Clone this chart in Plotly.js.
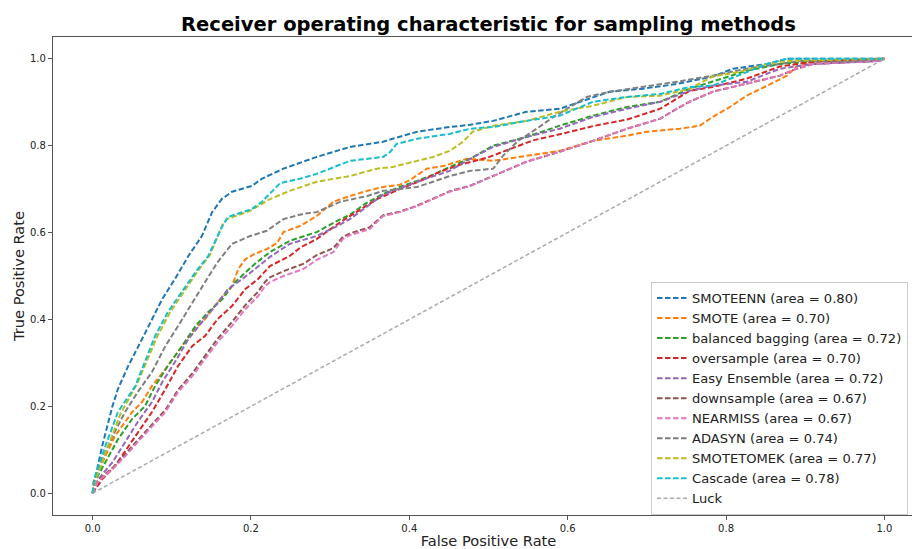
<!DOCTYPE html>
<html>
<head>
<meta charset="utf-8">
<script src="https://cdn.plot.ly/plotly-3.0.1.min.js"></script>
<style>
html,body{margin:0;padding:0;overflow:hidden;background:#fff;width:912px;height:549px;}
#chart{width:930px;height:549px;}
</style>
</head>
<body>
<div id="chart"></div>
<script>
// ---- Data ----
const names = ["SMOTEENN (area = 0.80)","SMOTE (area = 0.70)","balanced bagging (area = 0.72)","oversample (area = 0.70)","Easy Ensemble (area = 0.72)","downsample (area = 0.67)","NEARMISS (area = 0.67)","ADASYN (area = 0.74)","SMOTETOMEK (area = 0.77)","Cascade (area = 0.78)"];
const colors = ["#1f77b4","#ff7f0e","#2ca02c","#d62728","#9467bd","#8c564b","#e377c2","#7f7f7f","#bcbd22","#17becf"];

const smoteenn_fpr = [0,0.003,0.012,0.025,0.032,0.045,0.0625,0.075,0.088,0.104,0.121,0.138,0.151,0.163,0.176,0.201,0.214,0.241,0.283,0.325,0.367,0.379,0.410,0.451,0.477,0.506,0.548,0.590,0.616,0.653,0.695,0.738,0.783,0.809,0.852,0.877,0.994,1];
const smoteenn_tpr = [0,0.032,0.108,0.200,0.240,0.293,0.355,0.401,0.447,0.493,0.546,0.592,0.647,0.677,0.694,0.707,0.724,0.747,0.774,0.797,0.809,0.816,0.832,0.843,0.848,0.857,0.878,0.885,0.901,0.924,0.931,0.942,0.959,0.977,0.988,1.0,1.0,1];

const smote_fpr = [0,0.003,0.016,0.028,0.037,0.050,0.0625,0.075,0.092,0.108,0.126,0.142,0.158,0.176,0.184,0.193,0.205,0.220,0.233,0.241,0.262,0.283,0.304,0.325,0.347,0.367,0.388,0.401,0.422,0.443,0.473,0.506,0.548,0.590,0.632,0.675,0.700,0.742,0.767,0.783,0.805,0.826,0.852,0.877,0.889,0.910,0.994,1];
const smote_tpr = [0,0.032,0.085,0.131,0.154,0.187,0.210,0.247,0.286,0.325,0.371,0.401,0.440,0.477,0.516,0.539,0.551,0.562,0.576,0.601,0.615,0.638,0.671,0.684,0.696,0.705,0.710,0.721,0.747,0.753,0.770,0.765,0.776,0.788,0.811,0.823,0.832,0.839,0.846,0.866,0.889,0.915,0.938,0.961,0.982,0.993,1,1];

const bagging_fpr = [0,0.003,0.016,0.032,0.050,0.066,0.079,0.095,0.113,0.130,0.146,0.164,0.180,0.193,0.205,0.224,0.249,0.283,0.309,0.325,0.344,0.367,0.388,0.410,0.430,0.451,0.477,0.506,0.548,0.590,0.632,0.675,0.717,0.754,0.783,0.826,0.868,0.919,1];
const bagging_tpr = [0,0.028,0.071,0.124,0.171,0.200,0.247,0.293,0.339,0.385,0.417,0.447,0.486,0.509,0.528,0.555,0.581,0.601,0.627,0.641,0.666,0.689,0.705,0.719,0.733,0.751,0.770,0.800,0.820,0.846,0.869,0.889,0.901,0.931,0.947,0.972,0.988,0.995,1];

const oversample_fpr = [0,0.012,0.028,0.045,0.0625,0.075,0.092,0.108,0.126,0.142,0.158,0.176,0.193,0.209,0.224,0.249,0.262,0.283,0.313,0.336,0.359,0.388,0.413,0.439,0.464,0.498,0.530,0.556,0.590,0.632,0.675,0.717,0.754,0.783,0.826,0.868,0.910,1];
const oversample_tpr = [0,0.032,0.062,0.108,0.154,0.187,0.240,0.293,0.339,0.362,0.401,0.431,0.470,0.493,0.523,0.546,0.565,0.585,0.624,0.650,0.677,0.700,0.718,0.740,0.756,0.772,0.795,0.812,0.826,0.845,0.860,0.885,0.926,0.935,0.954,0.982,0.993,1];

const easy_fpr = [0,0.007,0.025,0.041,0.057,0.075,0.088,0.104,0.121,0.138,0.155,0.171,0.189,0.205,0.224,0.249,0.283,0.309,0.325,0.367,0.410,0.451,0.477,0.506,0.548,0.590,0.632,0.675,0.717,0.754,0.783,0.826,0.868,0.910,0.994,1];
const easy_tpr = [0,0.032,0.071,0.118,0.164,0.210,0.256,0.302,0.355,0.394,0.431,0.470,0.493,0.516,0.544,0.574,0.592,0.615,0.631,0.687,0.717,0.742,0.770,0.797,0.820,0.839,0.866,0.885,0.901,0.926,0.938,0.947,0.977,0.988,0.995,1];

const down_fpr = [0,0.007,0.025,0.041,0.057,0.075,0.092,0.108,0.126,0.142,0.158,0.176,0.193,0.209,0.218,0.224,0.241,0.266,0.283,0.304,0.316,0.325,0.350,0.367,0.388,0.410,0.430,0.451,0.477,0.506,0.548,0.590,0.632,0.675,0.717,0.738,0.754,0.783,0.826,0.868,0.889,0.910,0.994,1];
const down_tpr = [0,0.030,0.058,0.090,0.122,0.158,0.192,0.238,0.276,0.316,0.356,0.394,0.433,0.464,0.487,0.497,0.511,0.528,0.548,0.564,0.590,0.598,0.612,0.640,0.648,0.662,0.678,0.695,0.708,0.730,0.763,0.786,0.811,0.839,0.862,0.885,0.901,0.924,0.942,0.961,0.977,0.988,0.995,1];

const nearmiss_fpr = [0,0.007,0.025,0.041,0.057,0.075,0.092,0.108,0.126,0.142,0.158,0.176,0.193,0.209,0.218,0.224,0.241,0.266,0.283,0.304,0.316,0.325,0.350,0.367,0.388,0.410,0.430,0.451,0.477,0.506,0.548,0.590,0.632,0.675,0.717,0.738,0.754,0.783,0.826,0.868,0.889,0.910,0.994,1];
const nearmiss_tpr = [0,0.028,0.055,0.085,0.118,0.154,0.187,0.233,0.270,0.309,0.348,0.385,0.424,0.454,0.477,0.486,0.500,0.516,0.537,0.555,0.585,0.594,0.608,0.638,0.647,0.661,0.677,0.694,0.707,0.730,0.763,0.786,0.811,0.839,0.862,0.885,0.901,0.924,0.942,0.961,0.977,0.988,0.995,1];

const adasyn_fpr = [0,0.001,0.016,0.028,0.041,0.057,0.075,0.092,0.108,0.126,0.142,0.158,0.176,0.199,0.220,0.241,0.266,0.283,0.313,0.347,0.367,0.388,0.410,0.430,0.451,0.477,0.506,0.518,0.536,0.561,0.582,0.603,0.624,0.653,0.695,0.738,0.783,0.826,0.868,0.893,0.953,1];
const adasyn_tpr = [0,0.025,0.094,0.141,0.187,0.233,0.279,0.339,0.385,0.440,0.486,0.532,0.574,0.592,0.604,0.631,0.643,0.647,0.671,0.684,0.696,0.700,0.705,0.717,0.730,0.742,0.747,0.776,0.809,0.839,0.866,0.889,0.912,0.924,0.935,0.947,0.961,0.977,0.988,0.995,0.993,1];

const smotetomek_fpr = [0,0.004,0.018,0.035,0.056,0.082,0.098,0.116,0.132,0.148,0.164,0.170,0.199,0.224,0.249,0.283,0.325,0.359,0.379,0.410,0.430,0.451,0.468,0.480,0.506,0.548,0.590,0.632,0.675,0.717,0.754,0.783,0.818,0.852,0.877,0.994,1];
const smotetomek_tpr = [0,0.032,0.101,0.182,0.251,0.362,0.417,0.465,0.509,0.548,0.618,0.631,0.650,0.677,0.696,0.717,0.730,0.747,0.751,0.765,0.774,0.788,0.809,0.832,0.846,0.857,0.878,0.892,0.912,0.915,0.931,0.959,0.970,0.988,0.995,1.0,1];

const cascade_fpr = [0,0.003,0.016,0.032,0.054,0.079,0.095,0.113,0.130,0.146,0.164,0.171,0.189,0.201,0.214,0.224,0.237,0.262,0.283,0.325,0.367,0.376,0.384,0.410,0.451,0.477,0.506,0.548,0.590,0.632,0.675,0.717,0.754,0.783,0.826,0.852,0.877,1];
const cascade_tpr = [0,0.039,0.108,0.187,0.247,0.362,0.417,0.463,0.509,0.546,0.615,0.636,0.647,0.654,0.671,0.689,0.714,0.724,0.735,0.765,0.774,0.786,0.804,0.816,0.827,0.839,0.843,0.857,0.869,0.901,0.912,0.919,0.935,0.938,0.970,0.988,1.0,1];

const luck_fpr = [0,1];
const luck_tpr = [0,1];

const xTickVals = [0.0,0.2,0.4,0.6,0.8,1.0];
const xTickText = ["0.0","0.2","0.4","0.6","0.8","1.0"];
const yTickVals = [0.0,0.2,0.4,0.6,0.8,1.0];
const yTickText = ["0.0","0.2","0.4","0.6","0.8","1.0"];

const series = [
  [smoteenn_fpr, smoteenn_tpr],
  [smote_fpr, smote_tpr],
  [bagging_fpr, bagging_tpr],
  [oversample_fpr, oversample_tpr],
  [easy_fpr, easy_tpr],
  [down_fpr, down_tpr],
  [nearmiss_fpr, nearmiss_tpr],
  [adasyn_fpr, adasyn_tpr],
  [smotetomek_fpr, smotetomek_tpr],
  [cascade_fpr, cascade_tpr]
];

const traces = series.map((s, i) => ({
  x: s[0], y: s[1], type: 'scatter', mode: 'lines', name: names[i],
  line: {color: colors[i], width: 2, dash: '5.5px,2.5px'}
}));
traces.push({
  x: luck_fpr, y: luck_tpr, type: 'scatter', mode: 'lines', name: 'Luck',
  line: {color: '#aaaaaa', width: 1.5, dash: '4px,2.5px'}
});

const axisCommon = {
  showgrid: false, zeroline: false, showline: true, mirror: true,
  linecolor: '#555555', linewidth: 1.2,
  ticks: 'outside', ticklen: 4, tickcolor: '#555555', tickwidth: 1,
  tickfont: {family: 'DejaVu Sans', size: 10, color: '#222222'},
  range: [-0.05, 1.05], tickmode: 'array'
};

const layout = {
  width: 930, height: 549,
  margin: {l: 53, r: 6, t: 37, b: 34},
  paper_bgcolor: '#ffffff', plot_bgcolor: '#ffffff',
  title: {
    text: '<b>Receiver operating characteristic for sampling methods</b>',
    font: {family: 'DejaVu Sans', size: 19.5, color: '#000000'},
    x: 0.5, xref: 'paper', y: 1 - 24/549, yref: 'container', yanchor: 'middle'
  },
  xaxis: Object.assign({}, axisCommon, {
    tickvals: xTickVals, ticktext: xTickText,
    title: {text: 'False Positive Rate', font: {family: 'DejaVu Sans', size: 14.6, color: '#222222'}, standoff: 5}
  }),
  yaxis: Object.assign({}, axisCommon, {
    tickvals: yTickVals, ticktext: yTickText,
    title: {text: 'True Positive Rate', font: {family: 'DejaVu Sans', size: 14.6, color: '#222222'}, standoff: 1}
  }),
  showlegend: true,
  legend: {
    x: (651-53)/871, y: (515-282)/478, xanchor: 'left', yanchor: 'top',
    bgcolor: 'rgba(255,255,255,0.85)', bordercolor: '#cccccc', borderwidth: 1,
    font: {family: 'DejaVu Sans', size: 13.1, color: '#222222'},
    tracegroupgap: 0
  }
};

Plotly.newPlot('chart', traces, layout, {displayModeBar: false, staticPlot: true});
</script>
</body>
</html>
